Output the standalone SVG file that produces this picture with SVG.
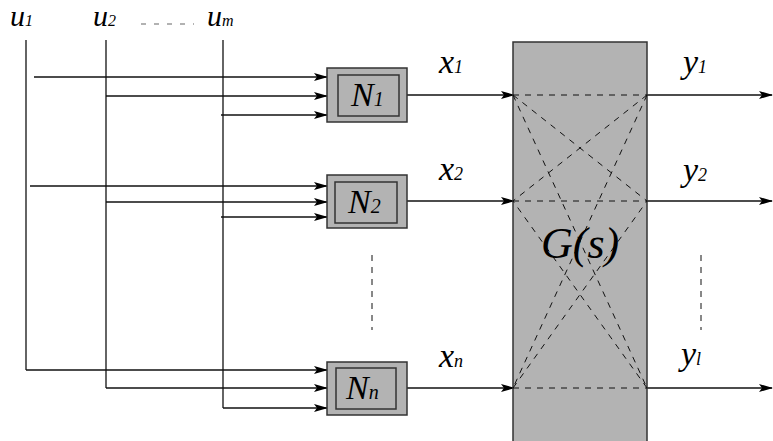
<svg xmlns="http://www.w3.org/2000/svg" width="773" height="441" viewBox="0 0 773 441">
<defs>
<marker id="ah" markerWidth="14" markerHeight="8" refX="13" refY="4" orient="auto" markerUnits="userSpaceOnUse">
<path d="M0,0 L14,4 L0,8 L3,4 Z" fill="#000"/>
</marker>
<style>
.ln{stroke:#111;stroke-width:1.3;fill:none}
.ar{stroke:#111;stroke-width:1.3;fill:none;marker-end:url(#ah)}
.ds{stroke:#111;stroke-width:1;fill:none;stroke-dasharray:6,6}
.ob{fill:#b3b3b3;stroke:#333;stroke-width:1.5}
.ib{fill:#b3b3b3;stroke:#333;stroke-width:1.5}
.t{font-family:'Liberation Serif','Times New Roman','DejaVu Serif',serif;font-style:italic;fill:#000}
</style>
</defs>
<g id="labels-u">
<text class="t" x="10" y="26" font-size="30">u<tspan font-size="16">1</tspan></text>
<text class="t" x="93" y="26" font-size="30">u<tspan font-size="16">2</tspan></text>
<text class="t" x="207" y="26" font-size="30">u<tspan font-size="16">m</tspan></text>
<line x1="141" y1="24" x2="194" y2="24" stroke="#666" stroke-width="1.2" stroke-dasharray="5,8"/>
</g>
<g id="connectors">
<line class="ln" x1="26" y1="40" x2="26" y2="370"/>
<line class="ln" x1="106" y1="40" x2="106" y2="388"/>
<line class="ln" x1="223" y1="40" x2="223" y2="408"/>
<line class="ar" x1="34" y1="77" x2="327" y2="77"/>
<line class="ar" x1="106" y1="96" x2="327" y2="96"/>
<line class="ar" x1="221" y1="115" x2="327" y2="115"/>
<line class="ar" x1="30" y1="186" x2="327" y2="186"/>
<line class="ar" x1="106" y1="202" x2="327" y2="202"/>
<line class="ar" x1="221" y1="217" x2="327" y2="217"/>
<line class="ar" x1="26" y1="370" x2="327" y2="370"/>
<line class="ar" x1="106" y1="388" x2="327" y2="388"/>
<line class="ar" x1="223" y1="408" x2="327" y2="408"/>
<line class="ar" x1="407" y1="95" x2="514" y2="95"/>
<line class="ar" x1="407" y1="201" x2="514" y2="201"/>
<line class="ar" x1="407" y1="388" x2="514" y2="388"/>
<line class="ar" x1="647" y1="95" x2="772" y2="95"/>
<line class="ar" x1="647" y1="201" x2="772" y2="201"/>
<line class="ar" x1="647" y1="388" x2="772" y2="388"/>
<line class="ds" x1="372" y1="255" x2="372" y2="330"/>
<line class="ds" x1="701" y1="255" x2="701" y2="330"/>
</g>
<g id="N1">
<rect class="ob" x="327" y="68" width="80" height="54"/>
<rect class="ib" x="338" y="75" width="61" height="41"/>
<text class="t" x="351" y="106" font-size="34">N<tspan font-size="20">1</tspan></text>
</g>
<g id="N2">
<rect class="ob" x="327" y="175" width="80" height="53"/>
<rect class="ib" x="335" y="182" width="62" height="41"/>
<text class="t" x="348" y="213" font-size="34">N<tspan font-size="20">2</tspan></text>
</g>
<g id="Nn">
<rect class="ob" x="327" y="362" width="80" height="53"/>
<rect class="ib" x="336" y="368" width="60" height="41"/>
<text class="t" x="346" y="399" font-size="34">N<tspan font-size="20">n</tspan></text>
</g>
<g id="G">
<rect class="ob" x="513" y="42" width="134" height="405"/>
<line class="ds" x1="513" y1="95" x2="647" y2="95"/>
<line class="ds" x1="513" y1="201" x2="647" y2="201"/>
<line class="ds" x1="513" y1="388" x2="647" y2="388"/>
<line class="ds" x1="513" y1="95" x2="647" y2="201"/>
<line class="ds" x1="513" y1="95" x2="647" y2="388"/>
<line class="ds" x1="647" y1="95" x2="513" y2="201"/>
<line class="ds" x1="647" y1="95" x2="513" y2="388"/>
<line class="ds" x1="513" y1="388" x2="647" y2="201"/>
<line class="ds" x1="647" y1="388" x2="513" y2="201"/>
<text class="t" x="541" y="258" font-size="44">G(s)</text>
</g>
<g id="labels-xy">
<text class="t" x="439" y="73" font-size="34">x<tspan font-size="18">1</tspan></text>
<text class="t" x="439" y="180" font-size="34">x<tspan font-size="18">2</tspan></text>
<text class="t" x="439" y="367" font-size="34">x<tspan font-size="18">n</tspan></text>
<text class="t" x="683" y="73" font-size="34">y<tspan font-size="18">1</tspan></text>
<text class="t" x="683" y="181" font-size="34">y<tspan font-size="18">2</tspan></text>
<text class="t" x="681" y="365" font-size="34">y<tspan font-size="18">l</tspan></text>
</g>
</svg>
